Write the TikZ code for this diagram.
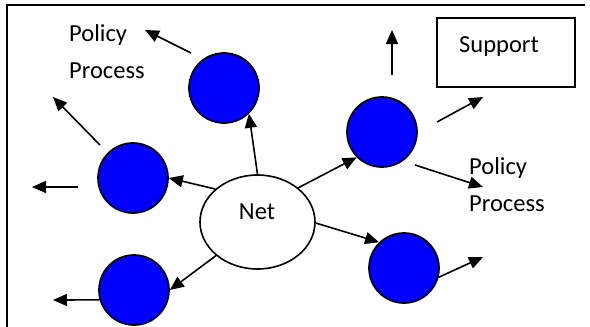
\documentclass[tikz,border=0pt]{standalone}
\usepackage{fontspec}
\setmainfont{Carlito}
\usetikzlibrary{shapes.geometric,arrows.meta}
\begin{document}
\begin{tikzpicture}[x=1pt,y=-1pt,
  ball/.style={circle,draw=black,line width=1.7pt,fill=blue,minimum size=70pt,inner sep=0pt},
  conn/.style={line width=1.6pt,-{Triangle[length=14pt,width=12pt]}},
  txt/.style={font=\fontsize{24.5}{37}\selectfont,inner sep=0pt},
  lbl/.style={txt,align=left,anchor=west},
  frame/.style={line width=1.6pt}]
\useasboundingbox (0,0) rectangle (590,327);
\draw[frame] (7,327) -- (7,5) -- (585,5);
% nodes
\node[ellipse,draw=black,line width=1.6pt,fill=white,minimum width=115pt,minimum height=94pt,inner sep=0pt] (net) at (257.5,222) {};
\node[txt] (nettext) at (257,212) {Net};
\node[ball] (c1) at (224,88) {};
\node[ball] (c2) at (133,178) {};
\node[ball] (c3) at (134,290) {};
\node[ball] (c4) at (382,132) {};
\node[ball] (c5) at (404,268) {};
\node[draw=black,line width=1.4pt,minimum width=138pt,minimum height=69pt,inner sep=0pt] (support) at (506,52.5) {};
\node[txt] (supporttext) at (499,47) {Support};
\node[lbl] (pol1) at (69,51.5) {Policy\\Process};
\node[lbl] (pol2) at (469,185) {Policy\\Process};
% free coordinates
\coordinate (a1) at (191,53);  \coordinate (a2) at (145,30);
\coordinate (b1) at (100,145); \coordinate (b2) at (53,97);
\coordinate (e1) at (78,187);  \coordinate (e2) at (32,187);
\coordinate (g2) at (53,300);
\coordinate (i1) at (392,75);  \coordinate (i2) at (392,30);
\coordinate (j1) at (437,122); \coordinate (j2) at (483,97);
\coordinate (k1) at (415,165); \coordinate (k2) at (483,187);
\coordinate (m2) at (483,257);
% connectors
\draw[conn] (net.north) -- (c1.-46);
\draw[conn] (net.142) -- (c2.east);
\draw[conn] (net.219) -- (c3.east);
\draw[conn] (net.40) -- (c4.225);
\draw[conn] (net.-1) -- (c5.134);
\draw[conn] (a1) -- (a2);
\draw[conn] (b1) -- (b2);
\draw[conn] (e1) -- (e2);
\draw[conn] (c3.196) -- (g2);
\draw[conn] (i1) -- (i2);
\draw[conn] (j1) -- (j2);
\draw[conn] (k1) -- (k2);
\draw[conn] (c5.-15) -- (m2);
\end{tikzpicture}
\end{document}
